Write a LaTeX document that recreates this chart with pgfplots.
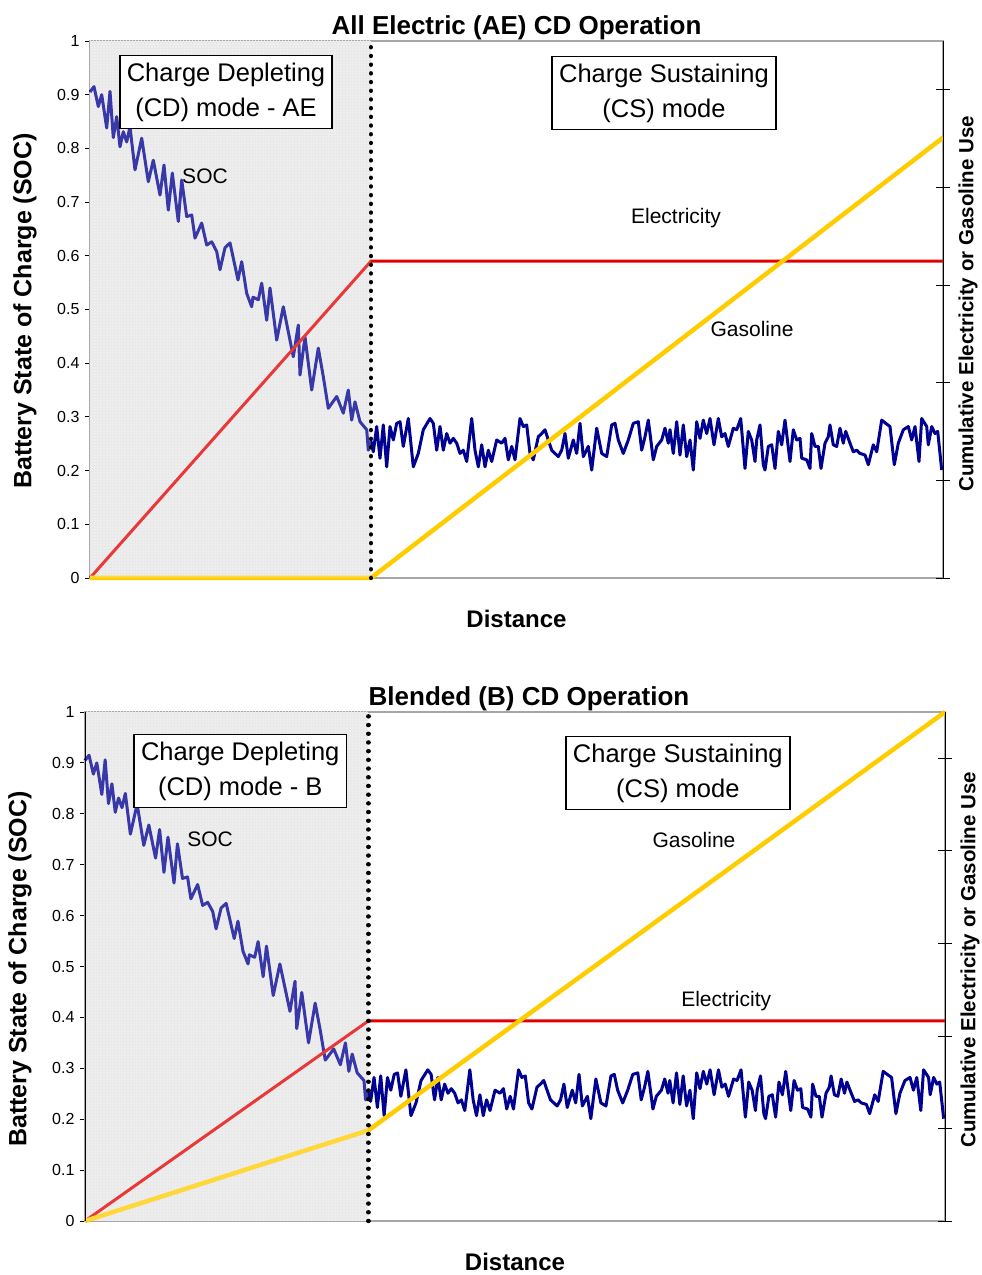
\documentclass[border=0pt]{standalone}
\usepackage{pgfplots}
\pgfplotsset{compat=1.18}
\usepackage{pgfplotstable}
\usepackage{fontspec}
\setmainfont{Liberation Sans}
\usetikzlibrary{patterns}

\definecolor{socblue}{RGB}{0,0,145}
\definecolor{elecred}{RGB}{228,0,0}
\definecolor{gasgold}{RGB}{255,204,0}
\definecolor{cdgray}{RGB}{234,234,234}

% SOC trace (same in both panels); x = distance, CD/CS switch at 281
\pgfplotstableread{
x soc
0 0.905
4 0.915
8.3 0.878
11.7 0.90
16.7 0.838
20 0.906
23.3 0.82
26.7 0.859
30 0.803
33.3 0.831
36.7 0.812
40 0.84
45 0.76
51.7 0.819
58.3 0.738
63.3 0.778
70 0.713
74 0.769
78.3 0.685
82.3 0.754
88.3 0.664
91.7 0.741
96.7 0.673
101.7 0.676
105 0.633
111.7 0.661
116.7 0.62
121.7 0.626
126.7 0.608
130 0.574
135 0.615
140 0.624
148 0.555
151.7 0.589
156.7 0.53
161.7 0.505
163 0.523
168.3 0.518
171.7 0.549
176.7 0.48
180 0.54
186.7 0.443
193.3 0.505
203.3 0.412
208.3 0.471
210 0.378
215 0.449
221.7 0.35
228.3 0.428
233.3 0.375
238.3 0.316
246.7 0.338
253.3 0.307
258.3 0.35
261.7 0.294
265 0.328
270 0.291
276.7 0.276
278.3 0.238
281 0.255
283.3 0.235
286.7 0.282
290 0.223
293.3 0.285
296.7 0.207
300 0.282
303.3 0.257
306.7 0.288
310 0.291
313.3 0.245
318.3 0.297
323.3 0.207
328.3 0.232
333.3 0.276
340 0.297
343.3 0.288
346.7 0.238
350 0.282
353.3 0.238
356.7 0.269
360 0.251
363.3 0.26
366.7 0.251
370 0.232
373.3 0.238
376.7 0.217
381.7 0.297
385 0.238
388.3 0.207
391.7 0.248
395 0.207
398.3 0.238
401.7 0.217
406.7 0.257
411.7 0.251
415 0.26
418.3 0.22
421.7 0.245
425 0.22
430 0.297
433.3 0.282
436.7 0.285
440 0.232
443.3 0.22
448.3 0.263
451.7 0.269
455 0.276
458.3 0.257
461.7 0.238
465 0.232
468.3 0.226
471.7 0.238
475 0.269
478.3 0.223
483.3 0.257
486.7 0.232
490 0.288
493.3 0.226
498.3 0.245
501.7 0.201
506.7 0.279
511.7 0.232
516.7 0.226
521.7 0.285
525 0.288
528.3 0.257
533.3 0.232
538.3 0.257
543.3 0.288
548.3 0.291
551.7 0.238
555 0.263
558.3 0.294
563.3 0.22
566.7 0.245
571.7 0.257
575 0.279
578.3 0.251
580 0.276
583.3 0.232
586.7 0.291
590 0.229
593.3 0.285
596.7 0.226
600 0.257
603.3 0.201
606.7 0.291
610 0.26
613.3 0.294
616.7 0.269
620 0.297
624 0.248
628.3 0.297
631.7 0.263
635 0.269
638.3 0.245
643.3 0.279
646.7 0.276
650.7 0.297
655 0.204
658.3 0.273
661.7 0.257
665 0.217
666.7 0.257
670 0.285
673.3 0.211
675 0.201
678.3 0.245
681.7 0.248
685 0.204
688.3 0.273
691.7 0.248
695 0.294
700 0.217
703.3 0.276
706.7 0.257
710 0.26
711.7 0.223
716.7 0.22
720 0.204
721.7 0.269
725 0.245
728.3 0.245
731 0.204
735 0.251
738.3 0.263
740 0.285
743.3 0.248
746.7 0.245
750 0.279
753.3 0.251
755.7 0.273
760 0.251
763.3 0.235
766.7 0.238
770 0.232
775 0.229
778.3 0.211
783.3 0.248
786.7 0.235
791.7 0.294
795.7 0.288
800 0.282
804.3 0.211
808.3 0.251
813.3 0.276
818.3 0.282
821.7 0.257
825 0.282
829 0.217
831.7 0.297
836.7 0.282
838.3 0.248
841.7 0.282
845 0.269
847.7 0.273
851.7 0.201
}\soctable

\pgfplotsset{
  panel/.style={
    scale only axis, anchor=south west, clip=false,
    xmin=0, xmax=853, ymin=0, ymax=1,
    xtick=\empty,
    ytick={0,0.1,0.2,0.3,0.4,0.5,0.6,0.7,0.8,0.9,1},
    ytick pos=left, tick align=outside, major tick length=5pt,
    tick style={black, line width=0.8pt},
    axis line style={gray!70, line width=1.3pt},
    yticklabel style={font=\fontsize{16}{18}\selectfont, xshift=-2pt},
    /pgf/number format/assume math mode=true,
  },
  rightaxis/.style={
    scale only axis, anchor=south west,
    xmin=0, xmax=853, ymin=0, ymax=5.5,
    axis x line=none, axis y line*=right,
    ytick={0,1,2,3,4,5}, yticklabels={},
    tick align=center, major tick length=14pt,
    tick style={black, line width=0.8pt},
    axis line style={black, line width=1pt},
  },
}
\tikzset{
  boxlbl/.style={draw=black, line width=1.6pt, fill=white, align=center,
    inner xsep=7pt, inner ysep=7pt, font=\fontsize{25.5}{35}\selectfont},
  plainlbl/.style={font=\fontsize{21}{24}\selectfont},
  cdline/.style={black, line width=4.4pt, line cap=round, dash pattern=on 0.05pt off 8.65pt},
}

\begin{document}
\begin{tikzpicture}
\useasboundingbox (0pt,0pt) rectangle (982pt,1275pt);

% ---------- top panel: all electric ----------
\begin{axis}[panel, at={(90pt,697pt)}, width=853pt, height=537pt]
  \fill[cdgray] (0,0) rectangle (281,1);
  \fill[pattern=grid, pattern color=gray!22] (0,0) rectangle (281,1);
  \addplot[socblue, line width=3pt, line join=round] table[x=x, y=soc] {\soctable};
  \addplot[elecred, line width=3pt] coordinates {(0,0) (281,0.59) (853,0.59)};
  \addplot[gasgold, line width=4.5pt] coordinates {(0,0) (281,0) (853,0.82)};
  \fill[white, opacity=0.22] (0,0) rectangle (281,1);
  \draw[cdline] (281,0) -- (281,1);
  \node[boxlbl] at (136,0.905) {Charge Depleting\\(CD) mode - AE};
  \node[boxlbl] at (574,0.903) {Charge Sustaining\\(CS) mode};
  \node[plainlbl] at (115,0.749) {SOC};
  \node[plainlbl] at (586,0.670) {Electricity};
  \node[plainlbl] at (662,0.464) {Gasoline};
\end{axis}
\begin{axis}[rightaxis, at={(90pt,697pt)}, width=853pt, height=537pt]
\end{axis}
\node[font=\bfseries\fontsize{26}{30}\selectfont, anchor=base] at (516.5pt,1240.5pt) {All Electric (AE) CD Operation};
\node[font=\bfseries\fontsize{24}{28}\selectfont, anchor=base] at (516.5pt,647.5pt) {Distance};
\node[font=\bfseries\fontsize{25}{28}\selectfont, rotate=90] at (25pt,964pt) {Battery State of Charge (SOC)};
\node[font=\bfseries\fontsize{20.5}{24}\selectfont, rotate=90, anchor=west, inner sep=0pt] at (968pt,783pt) {Cumulative Electricity or Gasoline Use};

% ---------- bottom panel: blended ----------
\begin{axis}[panel, at={(85pt,54pt)}, width=860pt, height=509pt]
  \fill[cdgray] (0,0) rectangle (281,1);
  \fill[pattern=grid, pattern color=gray!22] (0,0) rectangle (281,1);
  \addplot[socblue, line width=3pt, line join=round] table[x=x, y=soc] {\soctable};
  \addplot[elecred, line width=3pt] coordinates {(0,0) (281,0.393) (853,0.393)};
  \addplot[gasgold, line width=4.5pt] coordinates {(0,0) (281,0.178) (853,1)};
  \fill[white, opacity=0.22] (0,0) rectangle (281,1);
  \draw[cdline] (281,0) -- (281,1);
  \draw[black, line width=0.8pt] (0,0) -- (0,1);
  \node[boxlbl] at (154,0.884) {Charge Depleting\\(CD) mode - B};
  \node[boxlbl] at (588,0.880) {Charge Sustaining\\(CS) mode};
  \node[plainlbl] at (124,0.749) {SOC};
  \node[plainlbl] at (604,0.749) {Gasoline};
  \node[plainlbl] at (636,0.432) {Electricity};
\end{axis}
\begin{axis}[rightaxis, at={(85pt,54pt)}, width=860pt, height=509pt]
\end{axis}
\node[font=\bfseries\fontsize{26}{30}\selectfont, anchor=base] at (529pt,569.5pt) {Blended (B) CD Operation};
\node[font=\bfseries\fontsize{24}{28}\selectfont, anchor=base] at (515pt,4.5pt) {Distance};
\node[font=\bfseries\fontsize{25}{28}\selectfont, rotate=90] at (20pt,306pt) {Battery State of Charge (SOC)};
\node[font=\bfseries\fontsize{20.5}{24}\selectfont, rotate=90, anchor=west, inner sep=0pt] at (970pt,127pt) {Cumulative Electricity or Gasoline Use};
\end{tikzpicture}
\end{document}
